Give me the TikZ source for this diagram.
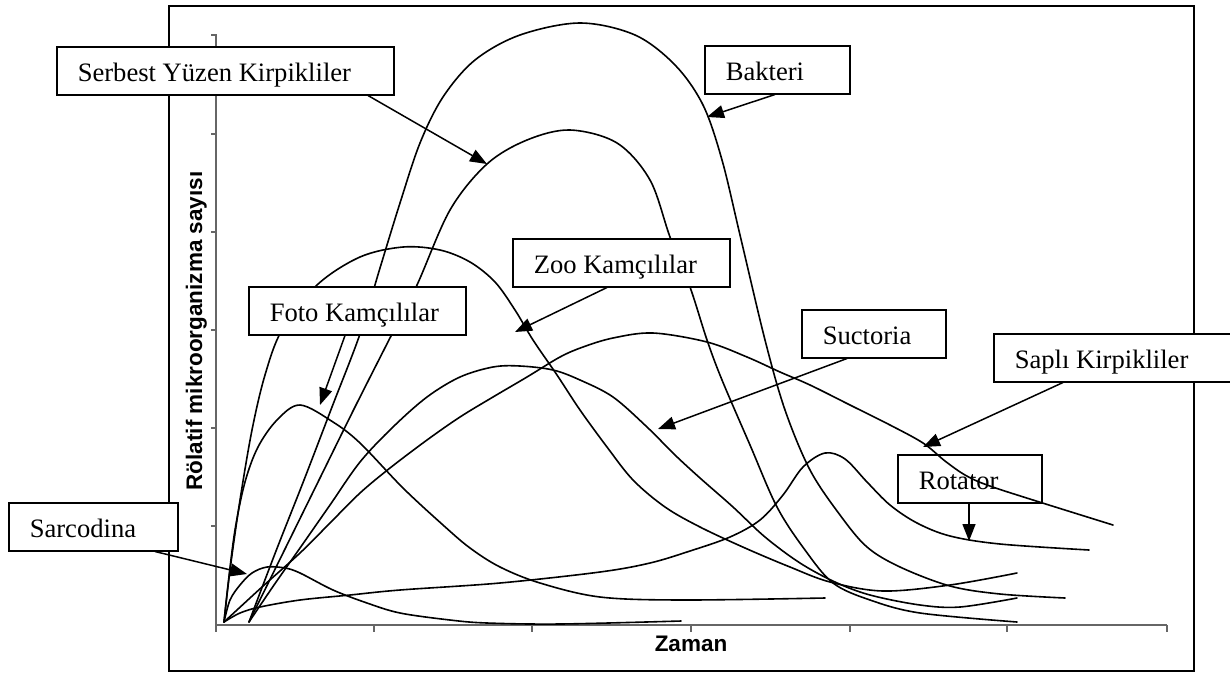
\documentclass[tikz,border=0pt]{standalone}
\usepackage{fontspec}
\setmainfont{Liberation Serif}
\newfontfamily\axfont{Liberation Sans}
\usetikzlibrary{arrows.meta,calc}
\tikzset{
  crv/.style={line width=1.6pt, line join=round, line cap=round},
  lbox/.style={draw, fill=white, line width=1.5pt, inner xsep=21pt, inner ysep=0pt,
    minimum height=48pt, text height=24pt, text depth=2pt, anchor=north west,
    font=\fontsize{26.6}{30}\selectfont},
  arr/.style={line width=1.5pt, -{Triangle[length=17pt,width=13pt]}},
  axlab/.style={inner sep=0pt, font=\axfont\bfseries\fontsize{22.5}{27}\selectfont},
  axl/.style={line width=1.4pt, black!60},
}
\begin{document}
\begin{tikzpicture}[x=1pt,y=-1pt]
\useasboundingbox (0,0) rectangle (1230,673);
% frame
\draw[line width=2pt] (169,6) rectangle (1194,671);
% axes
\draw[axl] (211,35) -- (216,35) -- (216,625) -- (1167,625);
\foreach \yy in {134,232,330,428,526} \draw[axl] (211,\yy) -- (216,\yy);
\foreach \xx in {216,374,532,691,850,1007,1167} \draw[axl] (\xx,625) -- (\xx,632);
\node[axlab, anchor=base] (xl) at (691,651) {Zaman};
\node[axlab, rotate=90, anchor=base] (yl) at (202,331) {Rölatif mikroorganizma sayısı};
% curves
% Bakteri
\draw[crv] plot[smooth,tension=0.55] coordinates {(249,622) (276,551) (304,480) (332,407) (360,334) (380,268) (400,203) (420,143) (443,97) (475,60) (520,35) (580,23) (635,35) (675,65) (703,105) (722,160) (740,235) (765,340) (785,410) (810,470) (840,515) (867,547) (900,567) (950,586) (1000,594) (1065,598)};
% Serbest Yuzen
\draw[crv] plot[smooth,tension=0.55] coordinates {(249,622) (284,551) (319,480) (355,407) (392,334) (417,285) (450,210) (487,164) (527,140) (570,130) (617,143) (650,180) (670,237) (690,287) (707,340) (722,380) (750,445) (777,507) (805,550) (833,583) (870,600) (920,613) (1017,622)};
% Zoo
\draw[crv] plot[smooth,tension=0.55] coordinates {(224,622) (230,570) (240,500) (252,430) (265,375) (282,330) (317,285) (360,257) (403,247) (440,250) (470,262) (495,282) (515,310) (533,340) (557,375) (580,410) (607,447) (633,480) (665,507) (700,527) (745,548) (790,567) (830,582) (883,591) (950,585) (1017,573)};
% Foto
\draw[crv] plot[smooth,tension=0.55] coordinates {(224,622) (228,585) (235,530) (245,482) (258,447) (277,420) (300,405) (333,422) (360,443) (403,488) (443,525) (470,548) (500,567) (540,583) (600,597) (683,600) (825,598)};
% Sarcodina
\draw[crv] plot[smooth,tension=0.55] coordinates {(224,622) (230,600) (240,585) (252,573) (267,567) (285,568) (300,573) (333,590) (367,603) (400,613) (450,620) (487,623) (560,624) (681,621)};
% Rotator
\draw[crv] plot[smooth,tension=0.55] coordinates {(224,622) (240,613) (260,607) (300,600) (350,595) (400,590) (500,583) (600,572) (650,563) (690,551) (730,537) (760,520) (783,495) (803,467) (825,453) (845,459) (867,482) (890,505) (917,523) (950,536) (1000,544) (1089,550)};
% Suctoria
\draw[crv] plot[smooth,tension=0.55] coordinates {(249,622) (274,585) (300,548) (330,505) (360,462) (393,427) (427,397) (460,377) (493,367) (520,366) (553,370) (580,380) (613,397) (647,427) (675,455) (700,478) (733,507) (765,537) (800,563) (835,582) (870,595) (920,605) (960,607) (1017,598)};
% boxes
\node[lbox] (sb) at (56,46) {\makebox[295pt][l]{Serbest Yüzen Kirpikliler}};
\node[lbox] (bk) at (704,45) {\makebox[103pt][l]{Bakteri}};
\node[lbox] (fk) at (248,286) {\makebox[175pt][l]{Foto Kamçılılar}};
\node[lbox] (zk) at (512,238) {\makebox[175pt][l]{Zoo Kamçılılar}};
\node[lbox] (su) at (801,309) {\makebox[102pt][l]{Suctoria}};
\node[lbox] (sk) at (993,333) {\makebox[203pt][l]{Saplı Kirpikliler}};
\node[lbox] (ro) at (897,454) {\makebox[102pt][l]{Rotator}};
\node[lbox] (sa) at (8,502) {\makebox[127pt][l]{Sarcodina}};
% Sapli Kirpikliler curve (drawn over the Rotator box)
\draw[crv] plot[smooth,tension=0.55] coordinates {(224,622) (262,587) (300,553) (330,523) (360,493) (390,468) (427,440) (460,417) (493,397) (527,377) (560,357) (583,347) (613,338) (653,333) (707,342) (747,357) (780,372) (810,385) (850,405) (890,425) (923,443) (945,461) (965,475) (987,485) (1033,500) (1113,525)};
% arrow tips
\coordinate (tsb) at (487,164);
\coordinate (tbk) at (707,117);
\coordinate (tfk) at (320,405);
\coordinate (tzk) at (515,332);
\coordinate (tsu) at (658,429);
\coordinate (tsk) at (923,447);
\coordinate (tro) at (969,541);
\coordinate (tsa) at (247,574);
% arrows
\draw[arr] ($(sb.south west)+(312,0)$) -- (tsb);
\draw[arr] ($(bk.south west)+(71,0)$) -- (tbk);
\draw[arr] ($(fk.south west)+(97,0)$) -- (tfk);
\draw[arr] ($(zk.south west)+(95,0)$) -- (tzk);
\draw[arr] ($(su.south west)+(46,0)$) -- (tsu);
\draw[arr] ($(sk.south west)+(70,0)$) -- (tsk);
\draw[arr] ($(ro.south west)+(72,0)$) -- (tro);
\draw[arr] ($(sa.south west)+(147,0)$) -- (tsa);
\end{tikzpicture}
\end{document}
